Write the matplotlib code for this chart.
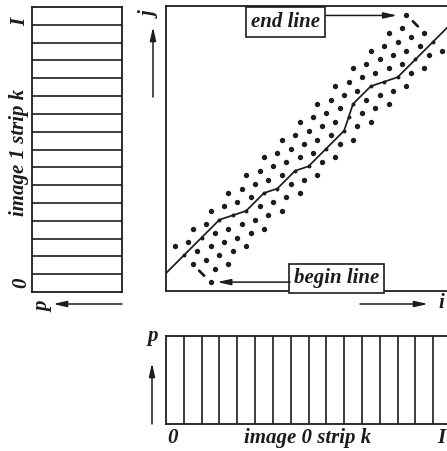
import matplotlib
matplotlib.use("Agg")
import matplotlib.pyplot as plt

W_PX, H_PX = 447, 451
INK = "#1c1c1c"
FONT = dict(family="Liberation Serif", weight="bold", style="italic", color=INK)

# strips: number of cells
N_CELLS = 16

# band of candidate nodes: anti-diagonal index k, offset m across the band
diag_index = [0, 1, 2, 3, 4, 5, 6, 7, 8, 9, 10, 11, 12, 13,
              14, 15, 16, 17, 18, 19, 20, 21, 22, 23, 24, 25, 26]
even_offsets = [-2, -1, 0, 1, 2]
odd_offsets = [-1.5, -0.5, 0.5, 1.5]
band_origin = (1.5, 1.5)

# chosen path through the band (k, m)
path_k = [0, 2, 4, 5, 6, 8, 9, 11, 12, 14, 16, 17, 18, 20, 21, 22, 24, 26]
path_m = [-1, -1, -1, -0.5, 0, 0, 0.5, 0.5, 1, 1, 1, 0.5, 0, 0, 0.5, 1, 1, 1]
path_start = (0, 1)
path_end = (16, 15)

# begin / end line markers (k, m)
begin_dash = (0, 1)
end_dash = (26, -1)


def to_ij(k, m):
    return band_origin[0] + 0.5 * (k + m), band_origin[1] + 0.5 * (k - m)


def px_rect(x0, y0, x1, y1):
    return [x0 / W_PX, 1 - y1 / H_PX, (x1 - x0) / W_PX, (y1 - y0) / H_PX]


fig = plt.figure(figsize=(W_PX / 100, H_PX / 100), dpi=100)

# ---- main (i, j) plane
ax = fig.add_axes(px_rect(166, 6, 451, 291))
ax.set_xlim(0, N_CELLS)
ax.set_ylim(0, N_CELLS)
ax.set_xticks([])
ax.set_yticks([])
for s in ax.spines.values():
    s.set_linewidth(1.3)
    s.set_color(INK)

on_path = set(zip(path_k, path_m))
dashes = {begin_dash, end_dash}
dot_i, dot_j = [], []
for k in diag_index:
    offs = even_offsets if k % 2 == 0 else odd_offsets
    for m in offs:
        if (k, m) in on_path or (k, m) in dashes:
            continue
        i, j = to_ij(k, m)
        dot_i.append(i)
        dot_j.append(j)
ax.scatter(dot_i, dot_j, s=15, color=INK, linewidths=0, zorder=3)

pi = [path_start[0]] + [to_ij(k, m)[0] for k, m in zip(path_k, path_m)] + [path_end[0]]
pj = [path_start[1]] + [to_ij(k, m)[1] for k, m in zip(path_k, path_m)] + [path_end[1]]
ax.plot(pi, pj, color=INK, lw=1.25, zorder=2)
ax.scatter(pi[1:-1], pj[1:-1], s=8, color=INK, linewidths=0, zorder=3)

for k, m in dashes:
    i, j = to_ij(k, m)
    ax.plot([i - 0.14, i + 0.14], [j + 0.14, j - 0.14], color=INK, lw=2.0,
            solid_capstyle="round", zorder=3)

box = dict(boxstyle="square,pad=0.22", fc="white", ec=INK, lw=1.2)
ax.text(6.71, 15.1, "end line", fontsize=15, ha="center", va="center", bbox=box, **FONT)
ax.text(9.58, 0.72, "begin line", fontsize=15, ha="center", va="center", bbox=box, **FONT)
arrow = dict(arrowstyle="-|>,head_length=0.8,head_width=0.18", color=INK, lw=1.1,
             shrinkA=0, shrinkB=0)
ax.annotate("", xy=(12.98, 15.47), xytext=(8.99, 15.47), arrowprops=arrow)
ax.annotate("", xy=(2.87, 0.5), xytext=(6.97, 0.5), arrowprops=arrow)

# ---- image 1 strip (left)
axl = fig.add_axes(px_rect(32, 7, 122, 292))
axl.set_xlim(0, 1)
axl.set_ylim(0, N_CELLS)
axl.hlines(range(1, N_CELLS), 0, 1, color=INK, lw=1.2)
axl.set_xticks([])
axl.set_yticks([])
for s in axl.spines.values():
    s.set_linewidth(1.3)
    s.set_color(INK)

# ---- image 0 strip (bottom)
axb = fig.add_axes(px_rect(166, 336, 451, 424))
axb.set_xlim(0, N_CELLS)
axb.set_ylim(0, 1)
axb.vlines(range(1, N_CELLS), 0, 1, color=INK, lw=1.2)
axb.set_xticks([])
axb.set_yticks([])
for s in axb.spines.values():
    s.set_linewidth(1.3)
    s.set_color(INK)

# ---- labels and axis arrows (pixel overlay)
ov = fig.add_axes([0, 0, 1, 1], zorder=10)
ov.set_xlim(0, W_PX)
ov.set_ylim(H_PX, 0)
ov.axis("off")
ov.patch.set_visible(False)

ov.text(20, 22, "I", fontsize=15, rotation=90, ha="center", va="center", **FONT)
ov.text(19, 152, "image 1 strip k", fontsize=15, rotation=90, ha="center", va="center", **FONT)
ov.text(21, 283, "0", fontsize=15, rotation=90, ha="center", va="center", **FONT)
ov.text(43, 307, "p", fontsize=15, rotation=90, ha="center", va="center", **FONT)
ov.annotate("", xy=(53, 304), xytext=(122, 304), arrowprops=arrow)

ov.text(151, 15, "j", fontsize=15, rotation=90, ha="center", va="center", **FONT)
ov.annotate("", xy=(153, 27), xytext=(153, 97), arrowprops=arrow)

ov.text(441, 303, "i", fontsize=15, ha="center", va="center", **FONT)
ov.annotate("", xy=(428, 304), xytext=(360, 304), arrowprops=arrow)

ov.text(153, 336, "p", fontsize=15, ha="center", va="center", **FONT)
ov.annotate("", xy=(152, 363), xytext=(152, 424), arrowprops=arrow)

ov.text(173, 438, "0", fontsize=15, ha="center", va="center", **FONT)
ov.text(308, 438, "image 0 strip k", fontsize=15, ha="center", va="center", **FONT)
ov.text(441, 438, "I", fontsize=15, ha="center", va="center", **FONT)

fig.savefig("out.png", dpi=100, facecolor="white")
